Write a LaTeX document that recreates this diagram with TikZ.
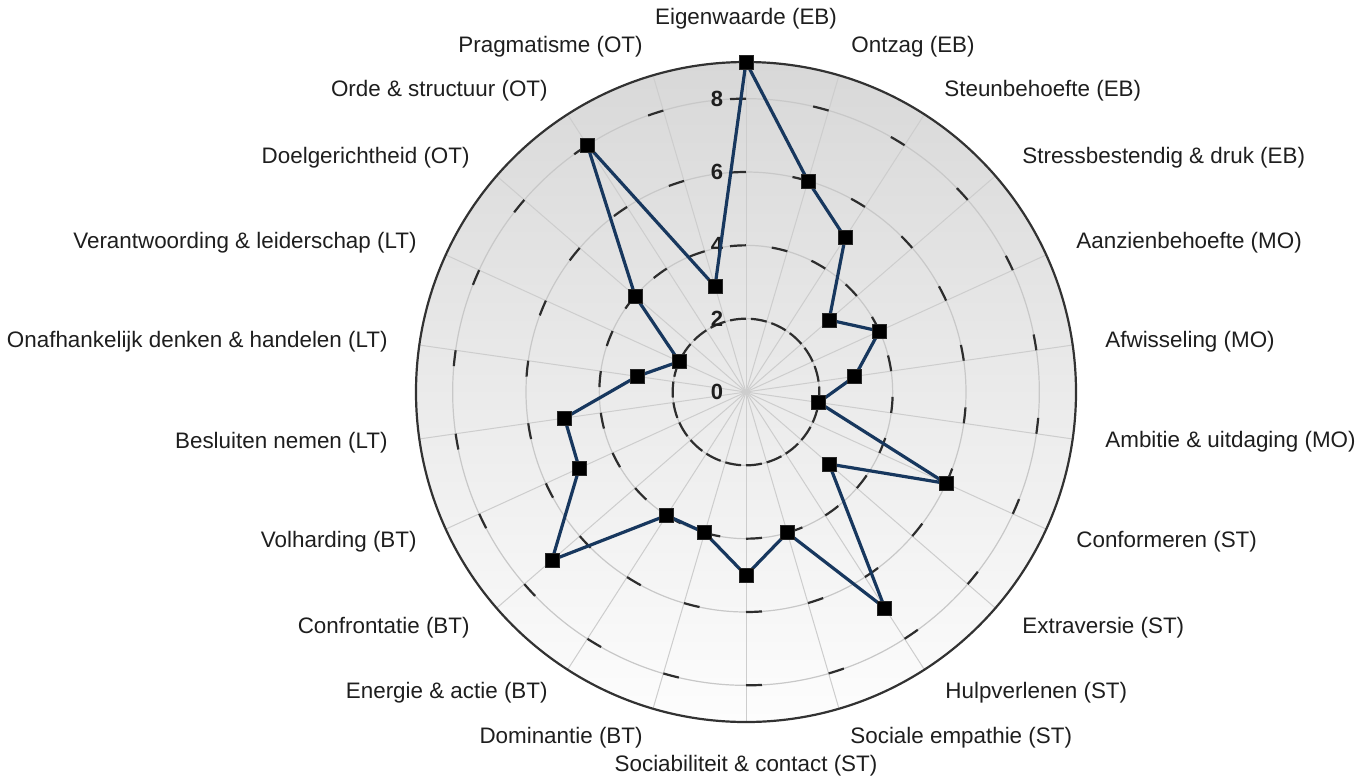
\documentclass[tikz,border=0pt]{standalone}
\usepackage{fontspec}
\setmainfont{Liberation Sans}
\definecolor{txt}{RGB}{30,30,30}
\definecolor{navy}{RGB}{23,55,94}
\definecolor{spokegray}{RGB}{205,205,205}
\definecolor{ringgray}{RGB}{200,200,200}
\definecolor{tickgray}{RGB}{45,45,45}
\definecolor{rimgray}{RGB}{50,50,50}
\definecolor{bgtop}{RGB}{216,216,216}
\definecolor{bgbot}{RGB}{253,253,253}
\begin{document}
\begin{tikzpicture}[x=0.5pt,y=0.5pt,
  lbl/.style={font=\fontsize{11.2}{13}\selectfont, text=txt, inner sep=0pt},
  num/.style={font=\fontsize{11}{13}\selectfont\bfseries, text=txt, inner sep=0pt},
  spoke/.style={draw=spokegray, line width=0.5pt},
  ring/.style={draw=ringgray, line width=0.6pt},
  tickmark/.style={draw=tickgray, line width=1.1pt},
  rim/.style={draw=rimgray, line width=1.1pt},
  dataline/.style={draw=navy, line width=1.6pt, line join=round},
  marker/.style={rectangle, fill=black, draw=black!85, minimum size=7pt, inner sep=0pt}]
\useasboundingbox (-746,-386) rectangle (622,392);
% background disc
\shade[top color=bgtop, bottom color=bgbot] (0,0) circle (330);
% spokes
\foreach \i in {0,...,21} {
  \pgfmathsetmacro\a{90-\i*360/22}
  \draw[spoke] (0,0) -- (\a:330);
}
% rings
\foreach \k in {2,4,6,8} {
  \pgfmathsetmacro\r{\k*36.667}
  \draw[ring] (0,0) circle (\r);
}
% tick marks on every spoke at each ring
\foreach \k in {2,4,6,8} {
  \foreach \i in {0,...,21} {
    \pgfmathsetmacro\r{\k*36.667}
    \pgfmathsetmacro\a{90-\i*360/22}
    \pgfmathsetmacro\d{16/\r*57.2958}
    \draw[tickmark] (\a:\r) arc[start angle=\a, delta angle=\d, radius=\r];
  }
}
% rim
\draw[rim] (0,0) circle (330);
% scale labels
\foreach \k in {0,2,4,6,8} {
  \node[num] (s\k) at (-29,{\k*36.667}) {\k};
}
% data
\foreach \v [count=\n from 0] in {9,6,5,3,4,3,2,6,3,7,4,5,4,4,7,5,5,3,2,4,8,3} {
  \pgfmathsetmacro\a{90-\n*360/22}
  \coordinate (c\n) at (\a:{\v*36.667});
}
\draw[dataline] (c0) \foreach \i in {1,...,21} { -- (c\i) } -- cycle;
\foreach \i in {0,...,21} {
  \node[marker] (m\i) at (c\i) {};
}
% axis labels
\node[lbl, anchor=center] (l0) at (0,373) {Eigenwaarde (EB)};
\node[lbl, anchor=west] (l1) at (105,345) {Ontzag (EB)};
\node[lbl, anchor=west] (l2) at (198,301) {Steunbehoefte (EB)};
\node[lbl, anchor=west] (l3) at (276,234) {Stressbestendig \& druk (EB)};
\node[lbl, anchor=west] (l4) at (330,149) {Aanzienbehoefte (MO)};
\node[lbl, anchor=west] (l5) at (359,50) {Afwisseling (MO)};
\node[lbl, anchor=west] (l6) at (359,-50) {Ambitie \& uitdaging (MO)};
\node[lbl, anchor=west] (l7) at (330,-150) {Conformeren (ST)};
\node[lbl, anchor=west] (l8) at (276,-236) {Extraversie (ST)};
\node[lbl, anchor=west] (l9) at (199,-301) {Hulpverlenen (ST)};
\node[lbl, anchor=west] (l10) at (104,-346) {Sociale empathie (ST)};
\node[lbl, anchor=center] (l11) at (0,-374) {Sociabiliteit \& contact (ST)};
\node[lbl, anchor=east] (l12) at (-103,-346) {Dominantie (BT)};
\node[lbl, anchor=east] (l13) at (-198,-301) {Energie \& actie (BT)};
\node[lbl, anchor=east] (l14) at (-276,-236) {Confrontatie (BT)};
\node[lbl, anchor=east] (l15) at (-329,-150) {Volharding (BT)};
\node[lbl, anchor=east] (l16) at (-358,-51) {Besluiten nemen (LT)};
\node[lbl, anchor=east] (l17) at (-358,50) {Onafhankelijk denken \& handelen (LT)};
\node[lbl, anchor=east] (l18) at (-329,149) {Verantwoording \& leiderschap (LT)};
\node[lbl, anchor=east] (l19) at (-276,234) {Doelgerichtheid (OT)};
\node[lbl, anchor=east] (l20) at (-198,301) {Orde \& structuur (OT)};
\node[lbl, anchor=east] (l21) at (-103,345) {Pragmatisme (OT)};
\end{tikzpicture}
\end{document}
